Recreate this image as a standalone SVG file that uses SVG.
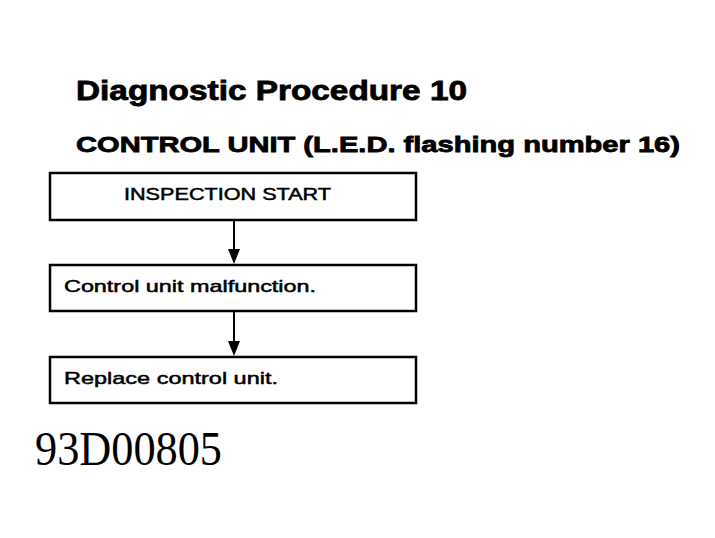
<svg xmlns="http://www.w3.org/2000/svg" width="715" height="538" viewBox="0 0 715 538">
<style>
.box{fill:#fff;stroke:#000;stroke-width:2.5}
.t{font-family:"Liberation Sans",Arial,sans-serif;font-weight:bold;fill:#000;stroke:#000;stroke-width:0.8}
.lbl{font-family:"Liberation Sans",Arial,sans-serif;fill:#000;font-size:17px;stroke:#000;stroke-width:0.5}
.ln{stroke:#000;stroke-width:2;fill:none}
</style>
<rect width="715" height="538" fill="#fff"/>
<text class="t" x="76" y="100" font-size="27" textLength="391" lengthAdjust="spacingAndGlyphs">Diagnostic Procedure 10</text>
<text class="t" x="76" y="152" font-size="22" textLength="604" lengthAdjust="spacingAndGlyphs">CONTROL UNIT (L.E.D. flashing number 16)</text>
<g id="connectors">
<path class="ln" d="M234,220 V250" />
<path d="M228,249 L240,249 L234,264 Z" fill="#000"/>
<path class="ln" d="M234,311 V342" />
<path d="M228,341 L240,341 L234,356 Z" fill="#000"/>
</g>
<g id="node1">
<rect class="box" x="50" y="173" width="366" height="47"/>
<text class="lbl" x="124" y="200" textLength="207" lengthAdjust="spacingAndGlyphs">INSPECTION START</text>
</g>
<g id="node2">
<rect class="box" x="50" y="265" width="366" height="46"/>
<text class="lbl" x="64" y="292" textLength="252" lengthAdjust="spacingAndGlyphs">Control unit malfunction.</text>
</g>
<g id="node3">
<rect class="box" x="50" y="357" width="366" height="46"/>
<text class="lbl" x="64" y="384" textLength="214" lengthAdjust="spacingAndGlyphs">Replace control unit.</text>
</g>
<text x="35" y="465" font-family="'Liberation Serif','Times New Roman',serif" font-size="48" textLength="187" lengthAdjust="spacingAndGlyphs" fill="#000">93D00805</text>
</svg>
